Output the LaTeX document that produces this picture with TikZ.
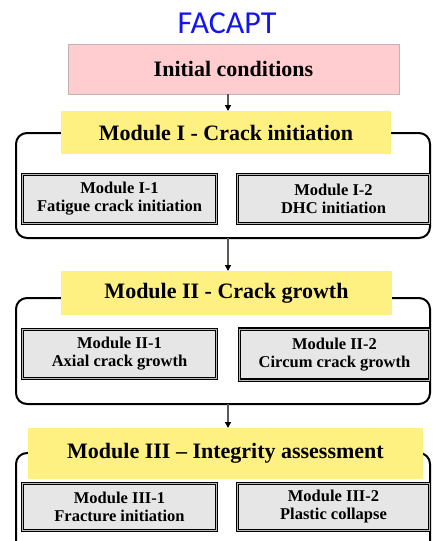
\documentclass[tikz,border=0pt]{standalone}
\usepackage{fontspec}
\setmainfont{Liberation Serif}
\newfontfamily\titlefont{Carlito}
\usetikzlibrary{arrows.meta}
\definecolor{titleblue}{RGB}{20,20,240}
\definecolor{pinkfill}{RGB}{255,204,208}
\definecolor{pinkedge}{RGB}{190,180,180}
\definecolor{yellowfill}{RGB}{255,240,130}
\definecolor{subfill}{RGB}{230,230,230}
\tikzset{
  every node/.style={inner sep=0pt, outer sep=0pt},
  frame/.style={draw=black, line width=2pt, rounded corners=11pt},
  header/.style={fill=yellowfill, font=\fontsize{22}{24}\selectfont\bfseries},
  initbox/.style={fill=pinkfill, draw=pinkedge, line width=0.8pt, font=\fontsize{22}{24}\selectfont\bfseries},
  subbox/.style={fill=subfill, draw=black, line width=1.5pt, double=gray!55, double distance=0.7pt,
    align=center, font=\fontsize{16.5}{19}\selectfont\bfseries},
  arr/.style={draw=black!65, line width=1.3pt, -{Triangle[length=6pt,width=6pt,fill=black,color=black]}},
}
\begin{document}
\begin{tikzpicture}[x=1pt,y=-1pt]
\useasboundingbox (0,0) rectangle (432,541);
\clip (0,0) rectangle (432,541);
\coordinate (ax) at (228,0);
% title
\node[text=titleblue, font=\titlefont\fontsize{32}{34}\selectfont] (title) at (227,23) {FACAPT};
% initial conditions
\node[initbox, minimum width=331, minimum height=50] (init) at (233.5,69) {Initial conditions};
% frames
\node[frame, minimum width=414, minimum height=105] (f1) at (223,185.5) {};
\node[frame, minimum width=414, minimum height=106] (f2) at (223,351) {};
\node[frame, minimum width=414, minimum height=100] (f3) at (223,503) {};
% headers
\node[header, minimum width=330, minimum height=43] (h1) at (226,132.5) {Module I - Crack initiation};
\node[header, minimum width=331, minimum height=44] (h2) at (226.5,293) {Module II - Crack growth};
\node[header, minimum width=395, minimum height=51] (h3) at (225.5,453.5) {Module III -- Integrity assessment};
% sub boxes
\node[subbox, minimum width=194, minimum height=49] (m11) at (119.5,199) {Module I-1\\[-1pt]Fatigue crack initiation};
\node[subbox, minimum width=192, minimum height=49] (m12) at (333.5,199) {Module I-2\\[-1pt]DHC initiation};
\node[subbox, minimum width=194, minimum height=49] (m21) at (119.5,354) {Module II-1\\[-1pt]Axial crack growth};
\node[subbox, minimum width=190, minimum height=51] (m22) at (334.5,354.5) {Module II-2\\[-1pt]Circum crack growth};
\node[subbox, minimum width=194, minimum height=47] (m31) at (119.5,507) {Module III-1\\[-1pt]Fracture initiation};
\node[subbox, minimum width=192, minimum height=47] (m32) at (333.5,507) {Module III-2\\[-1pt]Plastic collapse};
% arrows
\draw[arr] (init.south -| ax) -- (h1.north -| ax);
\draw[arr] (f1.south -| ax) -- (h2.north -| ax);
\draw[arr] (f2.south -| ax) -- (h3.north -| ax);
\end{tikzpicture}
\end{document}
